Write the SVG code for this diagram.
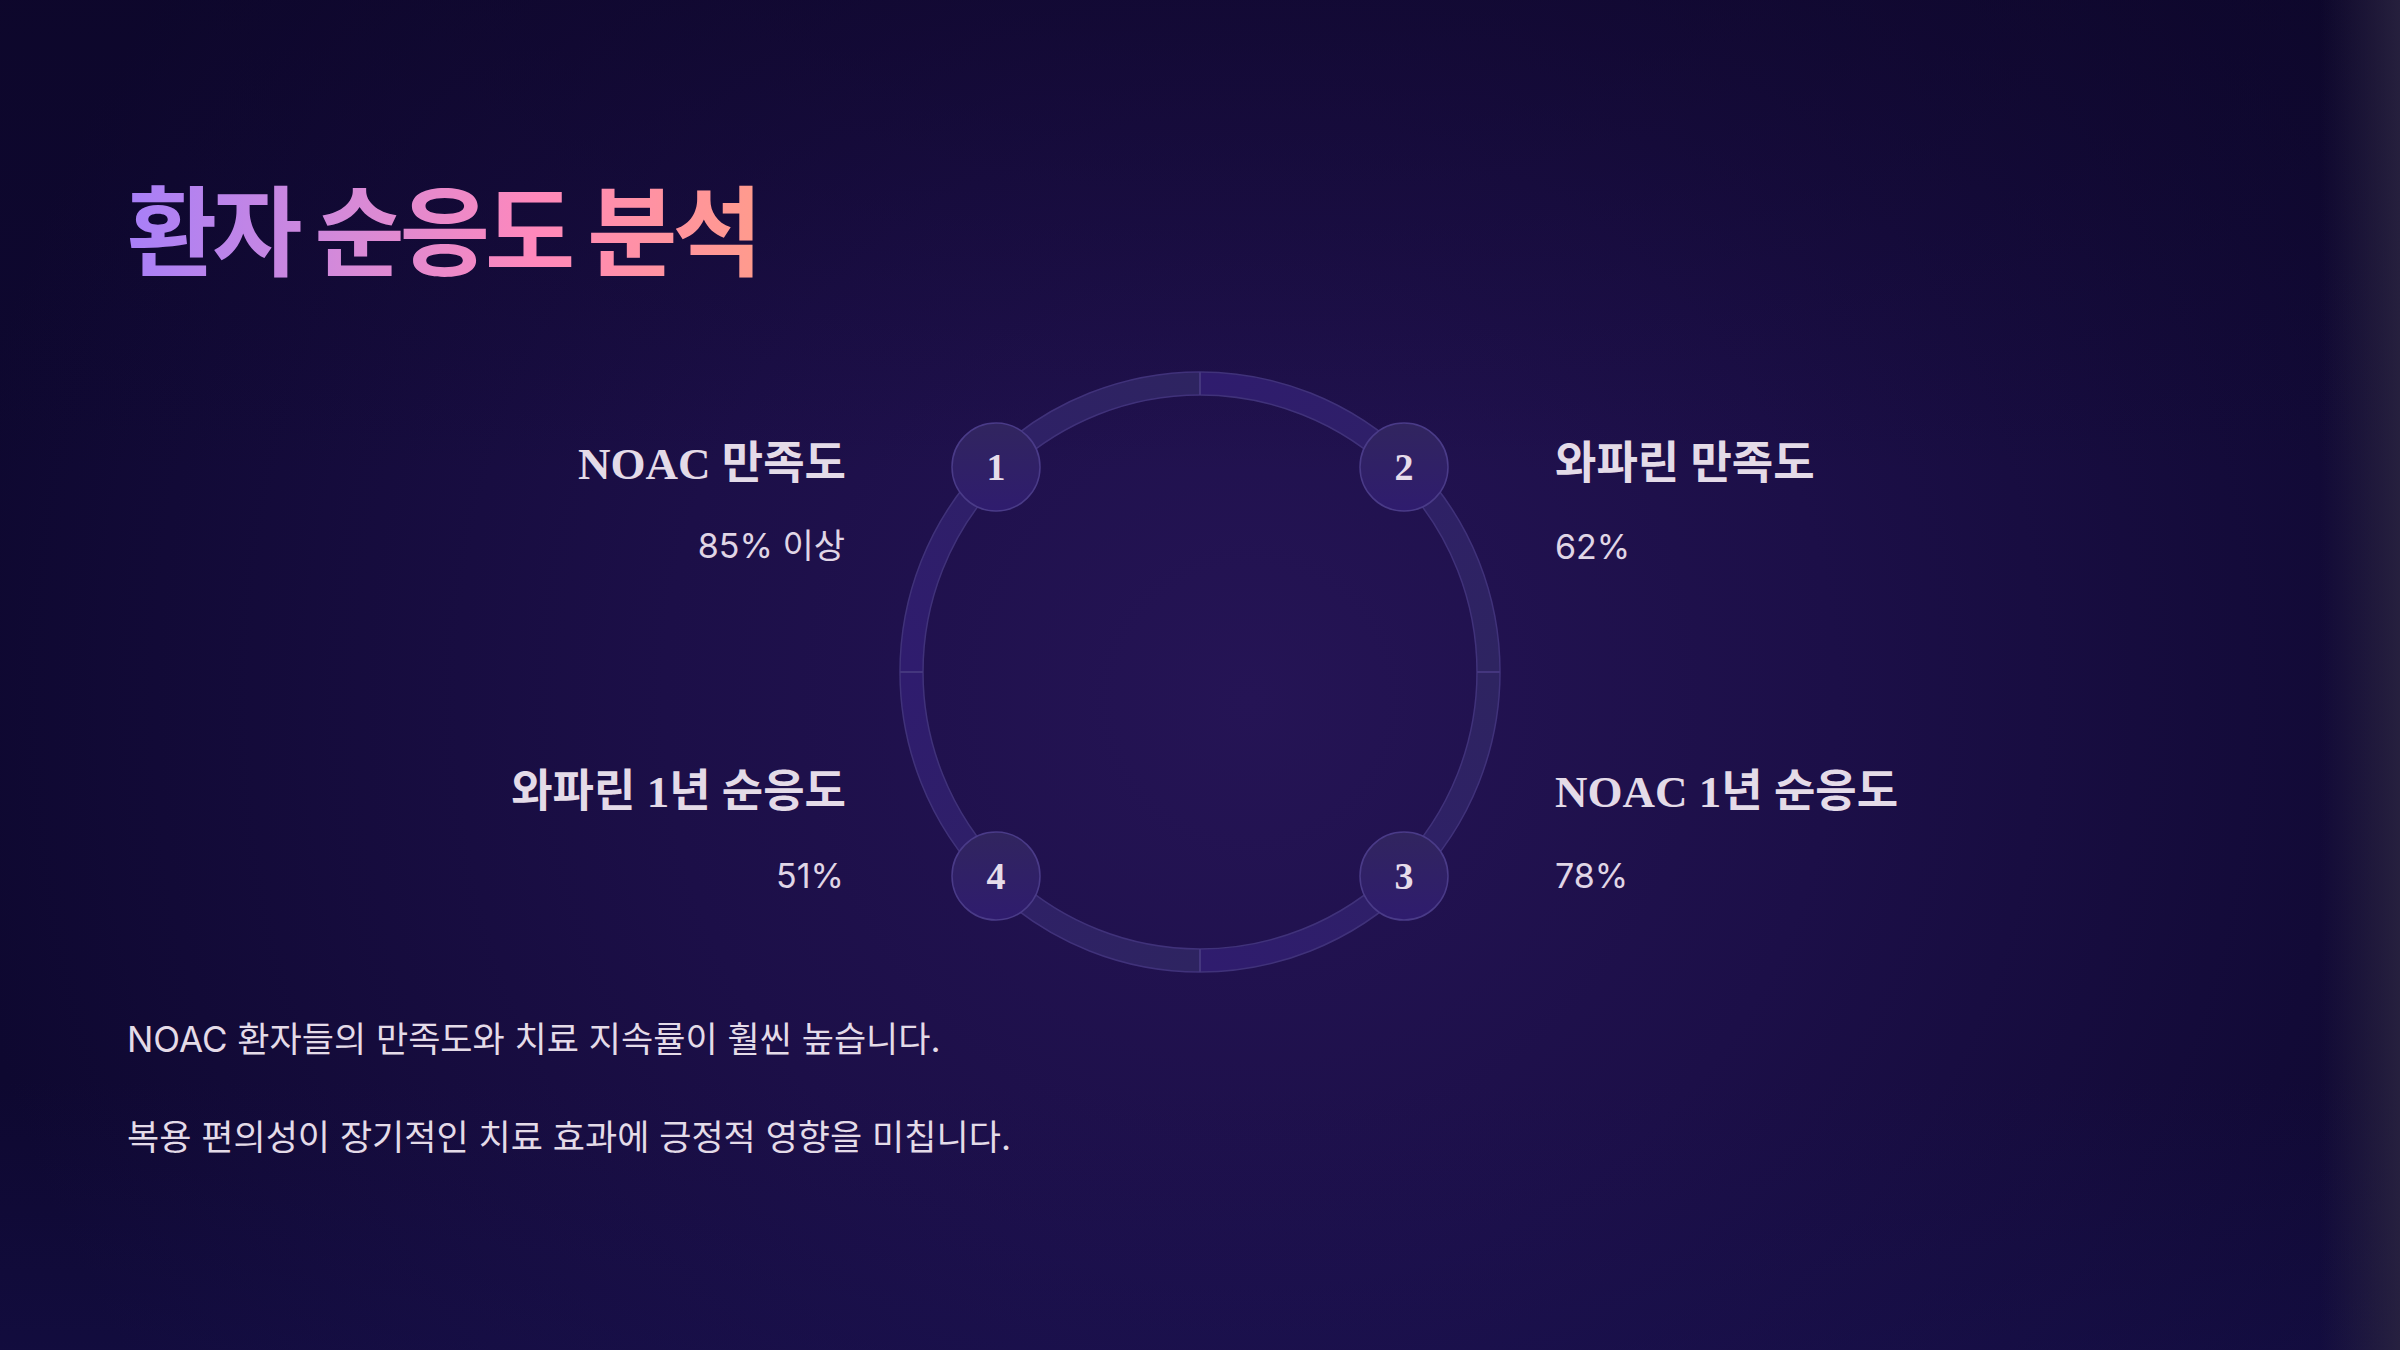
<svg xmlns="http://www.w3.org/2000/svg" width="2400" height="1350" viewBox="0 0 2400 1350">
<defs>
<radialGradient id="bgGlow" gradientUnits="userSpaceOnUse" cx="1250" cy="700" r="1300">
<stop offset="0" stop-color="#251455"/>
<stop offset="0.45" stop-color="#1c0f48"/>
<stop offset="1" stop-color="#0e0830"/>
</radialGradient>
<linearGradient id="bgTop" x1="0" y1="0" x2="0" y2="1">
<stop offset="0" stop-color="#0d0628" stop-opacity="0.55"/>
<stop offset="0.35" stop-color="#0d0628" stop-opacity="0"/>
<stop offset="0.8" stop-color="#1a1458" stop-opacity="0"/>
<stop offset="1" stop-color="#1a1458" stop-opacity="0.35"/>
</linearGradient>
<linearGradient id="edgeR" gradientUnits="userSpaceOnUse" x1="2320" y1="0" x2="2400" y2="0">
<stop offset="0" stop-color="#2a2440" stop-opacity="0"/>
<stop offset="1" stop-color="#2a2440" stop-opacity="0.85"/>
</linearGradient>
<linearGradient id="titleGrad" gradientUnits="userSpaceOnUse" x1="127" y1="0" x2="758" y2="0">
<stop offset="0" stop-color="#a77ff8"/>
<stop offset="0.35" stop-color="#d68ad8"/>
<stop offset="0.65" stop-color="#ff88bb"/>
<stop offset="1" stop-color="#ff9b8c"/>
</linearGradient>
<linearGradient id="qTR" gradientUnits="userSpaceOnUse" x1="1200" y1="383" x2="1488" y2="672">
<stop offset="0" stop-color="#2f1c6e"/><stop offset="1" stop-color="#2e2461"/>
</linearGradient>
<linearGradient id="qBR" gradientUnits="userSpaceOnUse" x1="1488" y1="672" x2="1200" y2="960">
<stop offset="0" stop-color="#2e2461"/><stop offset="1" stop-color="#2f1c6e"/>
</linearGradient>
<linearGradient id="qBL" gradientUnits="userSpaceOnUse" x1="1200" y1="960" x2="912" y2="672">
<stop offset="0" stop-color="#2e2461"/><stop offset="1" stop-color="#2f1c6e"/>
</linearGradient>
<linearGradient id="qTL" gradientUnits="userSpaceOnUse" x1="912" y1="672" x2="1200" y2="383">
<stop offset="0" stop-color="#2f1c6e"/><stop offset="1" stop-color="#2e2461"/>
</linearGradient>
<linearGradient id="nodeFill" x1="0" y1="0" x2="0" y2="1">
<stop offset="0" stop-color="#31255f"/><stop offset="1" stop-color="#2f1c6e"/>
</linearGradient>
<style>
.title{font-family:"Noto Sans CJK KR",sans-serif;font-weight:700;font-size:98px;letter-spacing:-5px;}
.head{font-family:"Liberation Serif","Noto Sans CJK KR",serif;font-weight:700;font-size:45px;fill:#e4dbe8;}
.val{font-family:"Inter","Noto Sans CJK KR",sans-serif;font-size:34px;fill:#e0d6e6;}
.body{font-family:"Inter","Noto Sans CJK KR",sans-serif;font-size:35px;fill:#e4dbe8;}
.num{font-family:"Liberation Serif",serif;font-weight:700;font-size:38px;fill:#e6dcea;text-anchor:middle;}
.seg{fill:none;stroke-width:23;}
.edge{fill:none;stroke:#40327a;stroke-width:1.5;}
.tick{stroke:#44367e;stroke-width:2;}
.node{fill:url(#nodeFill);stroke:#4a3b88;stroke-width:1.5;}
</style>
</defs>
<rect width="2400" height="1350" fill="url(#bgGlow)"/>
<rect width="2400" height="1350" fill="url(#bgTop)"/>
<rect x="2320" width="80" height="1350" fill="url(#edgeR)"/>

<g id="title">
<text class="title" x="127" y="268" fill="url(#titleGrad)">환자 순응도 분석</text>
</g>

<g id="connectors">
<path class="seg" stroke="url(#qTR)" d="M1200,383.5 A288.5,288.5 0 0 1 1488.5,672"/>
<path class="seg" stroke="url(#qBR)" d="M1488.5,672 A288.5,288.5 0 0 1 1200,960.5"/>
<path class="seg" stroke="url(#qBL)" d="M1200,960.5 A288.5,288.5 0 0 1 911.5,672"/>
<path class="seg" stroke="url(#qTL)" d="M911.5,672 A288.5,288.5 0 0 1 1200,383.5"/>
<circle class="edge" cx="1200" cy="672" r="300"/>
<circle class="edge" cx="1200" cy="672" r="277"/>
<line class="tick" x1="1200" y1="372" x2="1200" y2="395"/>
<line class="tick" x1="1200" y1="949" x2="1200" y2="972"/>
<line class="tick" x1="900" y1="672" x2="923" y2="672"/>
<line class="tick" x1="1477" y1="672" x2="1500" y2="672"/>
</g>

<g id="node1">
<circle class="node" cx="996" cy="467" r="44"/>
<text class="num" x="996" y="480">1</text>
<text class="head" x="846" y="479" text-anchor="end">NOAC 만족도</text>
<text class="val" x="845" y="558" text-anchor="end">85% 이상</text>
</g>
<g id="node2">
<circle class="node" cx="1404" cy="467" r="44"/>
<text class="num" x="1404" y="480">2</text>
<text class="head" x="1555" y="479">와파린 만족도</text>
<text class="val" x="1555" y="559">62%</text>
</g>
<g id="node3">
<circle class="node" cx="1404" cy="876" r="44"/>
<text class="num" x="1404" y="889">3</text>
<text class="head" x="1555" y="807">NOAC 1년 순응도</text>
<text class="val" x="1555" y="888">78%</text>
</g>
<g id="node4">
<circle class="node" cx="996" cy="876" r="44"/>
<text class="num" x="996" y="889">4</text>
<text class="head" x="846" y="807" text-anchor="end">와파린 1년 순응도</text>
<text class="val" x="844" y="888" text-anchor="end">51%</text>
</g>

<g id="notes">
<text class="body" x="127" y="1052">NOAC 환자들의 만족도와 치료 지속률이 훨씬 높습니다.</text>
<text class="body" x="127" y="1150">복용 편의성이 장기적인 치료 효과에 긍정적 영향을 미칩니다.</text>
</g>
</svg>
